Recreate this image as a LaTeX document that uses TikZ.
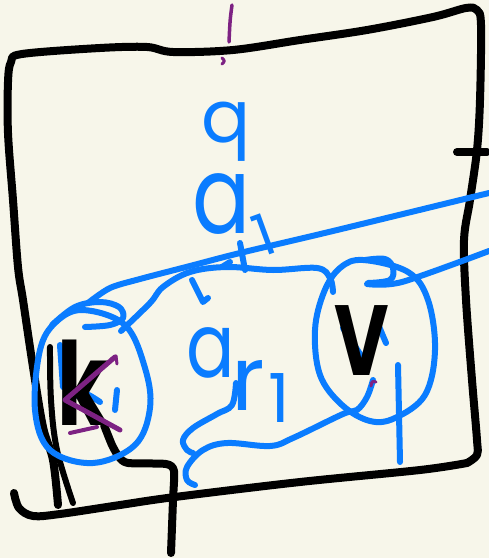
\documentclass[tikz,border=0pt]{standalone}
\usepackage{fontspec}
\setmainfont{Poppins}
\definecolor{paper}{HTML}{F7F6EA}
\definecolor{ink}{HTML}{0A7CFF}
\definecolor{plum}{HTML}{7D2283}
\begin{document}
\begin{tikzpicture}[x=1bp,y=-1bp,
  frame/.style={line width=8bp,line cap=round,line join=round},
  thinframe/.style={line width=6bp,line cap=round,line join=round},
  bluestroke/.style={ink,line width=6bp,line cap=round,line join=round},
  plumstroke/.style={plum,line width=5bp,line cap=round,line join=round},
  handtext/.style={inner sep=0pt,anchor=base}]
\fill[paper] (0,0) rectangle (489,558);
\useasboundingbox (0,0) rectangle (489,558);

% purple marks at top
\draw[plumstroke,line width=3.5bp] (232,5) .. controls (230,20) .. (229,42);
\draw[plumstroke,line width=3bp] (222,58) .. controls (225,61) .. (222,64);

% blue underlay bits
\draw[bluestroke] (60,345) -- (63,387);
\draw[bluestroke] (73,397) .. controls (85,392) .. (100,402);
\draw[bluestroke] (117,390) -- (115,410);
\draw[bluestroke] (343,328) -- (362,357);
\draw[bluestroke] (375,317) -- (386,343);

% black frame
\draw[frame] plot[smooth,tension=0.55] coordinates {(58,505) (53,460) (43,427) (33,367) (23,300) (18,267) (13,200) (8,133) (8,82) (11,62) (22,54) (100,48) (147,47) (173,52) (233,50) (300,40) (367,30) (433,17) (466,8) (477,10) (481,25) (480,100) (477,150) (470,200) (464,240) (466,300) (472,380) (477,440) (477,455) (467,463)};
\draw[frame] plot[smooth,tension=0.55] coordinates {(467,463) (420,470) (300,482) (175,497) (120,505) (60,514) (33,516) (19,508) (14,493)};
\draw[thinframe] plot[smooth,tension=0.6] coordinates {(50,347) (51,400) (57,450) (73,503)};
\draw[frame] (457,152) -- (487,152);

% k leg continuation
\draw[frame] plot[smooth,tension=0.4] coordinates {(104,425) (112,445) (119,457) (128,463) (166,464) (174,471) (173,500) (171,553)};

% texts
\node[handtext,ink,font=\fontsize{73}{73}\selectfont] (q) at (226,143) {q};
\node[handtext,ink,font=\fontsize{108}{108}\selectfont] (a1) at (222,233) {\scalebox{0.8}[1]{a}};
\node[handtext,ink,font=\fontsize{58}{58}\selectfont,rotate=20] (one1) at (271,254) {1};
\node[handtext,ink,font=\fontsize{90}{90}\selectfont] (a2) at (211,377) {\scalebox{0.8}[1]{a}};
\node[handtext,ink,font=\fontsize{90}{90}\selectfont] (r2) at (248,410) {r};
\node[handtext,ink,font=\fontsize{68}{68}\selectfont] (one2) at (279,422) {1};
\node[handtext,black,font=\fontsize{116}{116}\selectfont\bfseries] (k) at (83,425) {\scalebox{0.72}[1]{k}};
\node[handtext,black,font=\fontsize{100}{100}\selectfont\bfseries] (v) at (362,375) {\scalebox{0.75}[1]{V}};

% blue strokes
\draw[bluestroke] plot[smooth cycle,tension=0.6] coordinates {(83,310) (125,325) (145,368) (150,408) (135,445) (93,463) (50,450) (35,410) (40,350) (56,322)};
\draw[bluestroke] plot[smooth,tension=0.6] coordinates {(85,327) (110,325) (123,318) (119,307) (100,302) (75,307) (52,325)};
\draw[bluestroke] plot[smooth,tension=0.5] coordinates {(88,303) (110,288) (140,279) (190,266) (240,253) (333,231) (489,193)};
\draw[bluestroke] plot[smooth,tension=0.6] coordinates {(121,331) (150,303) (163,287) (190,272) (227,267) (273,270) (317,268) (330,278) (333,292)};
\draw[bluestroke] (192,280) -- (203,302) -- (208,298);
\draw[bluestroke] (230,262) -- (222,267);
\draw[bluestroke] (240,243) -- (245,270);
\draw[bluestroke] plot[smooth cycle,tension=0.6] coordinates {(363,260) (408,272) (428,300) (435,350) (425,395) (395,418) (370,421) (342,405) (320,375) (315,330) (324,292) (340,268)};
\draw[bluestroke] plot[smooth,tension=0.6] coordinates {(368,283) (390,280) (393,268) (385,259) (365,260)};
\draw[bluestroke] plot[smooth,tension=0.5] coordinates {(367,284) (402,282) (489,251)};
\draw[bluestroke] plot[smooth,tension=0.6] coordinates {(373,380) (367,397) (357,410) (343,414) (293,438) (270,446) (227,443) (203,450) (187,467) (187,480) (195,485)};
\draw[bluestroke] plot[smooth,tension=0.6] coordinates {(236,383) (232,405) (217,414) (193,428) (183,440) (187,450) (193,453)};
\draw[bluestroke] (398,365) -- (400,462);

% purple overlay on k
\draw[plumstroke] (115,357) -- (65,400) -- (120,430);
\draw[plumstroke,line width=3bp] (111,359) -- (116,356) -- (117,364);
\draw[plumstroke,line width=4bp] (70,433) -- (97,427);
\draw[plumstroke,line width=3bp] (371,386) .. controls (372,381) .. (376,382);
\end{tikzpicture}
\end{document}
